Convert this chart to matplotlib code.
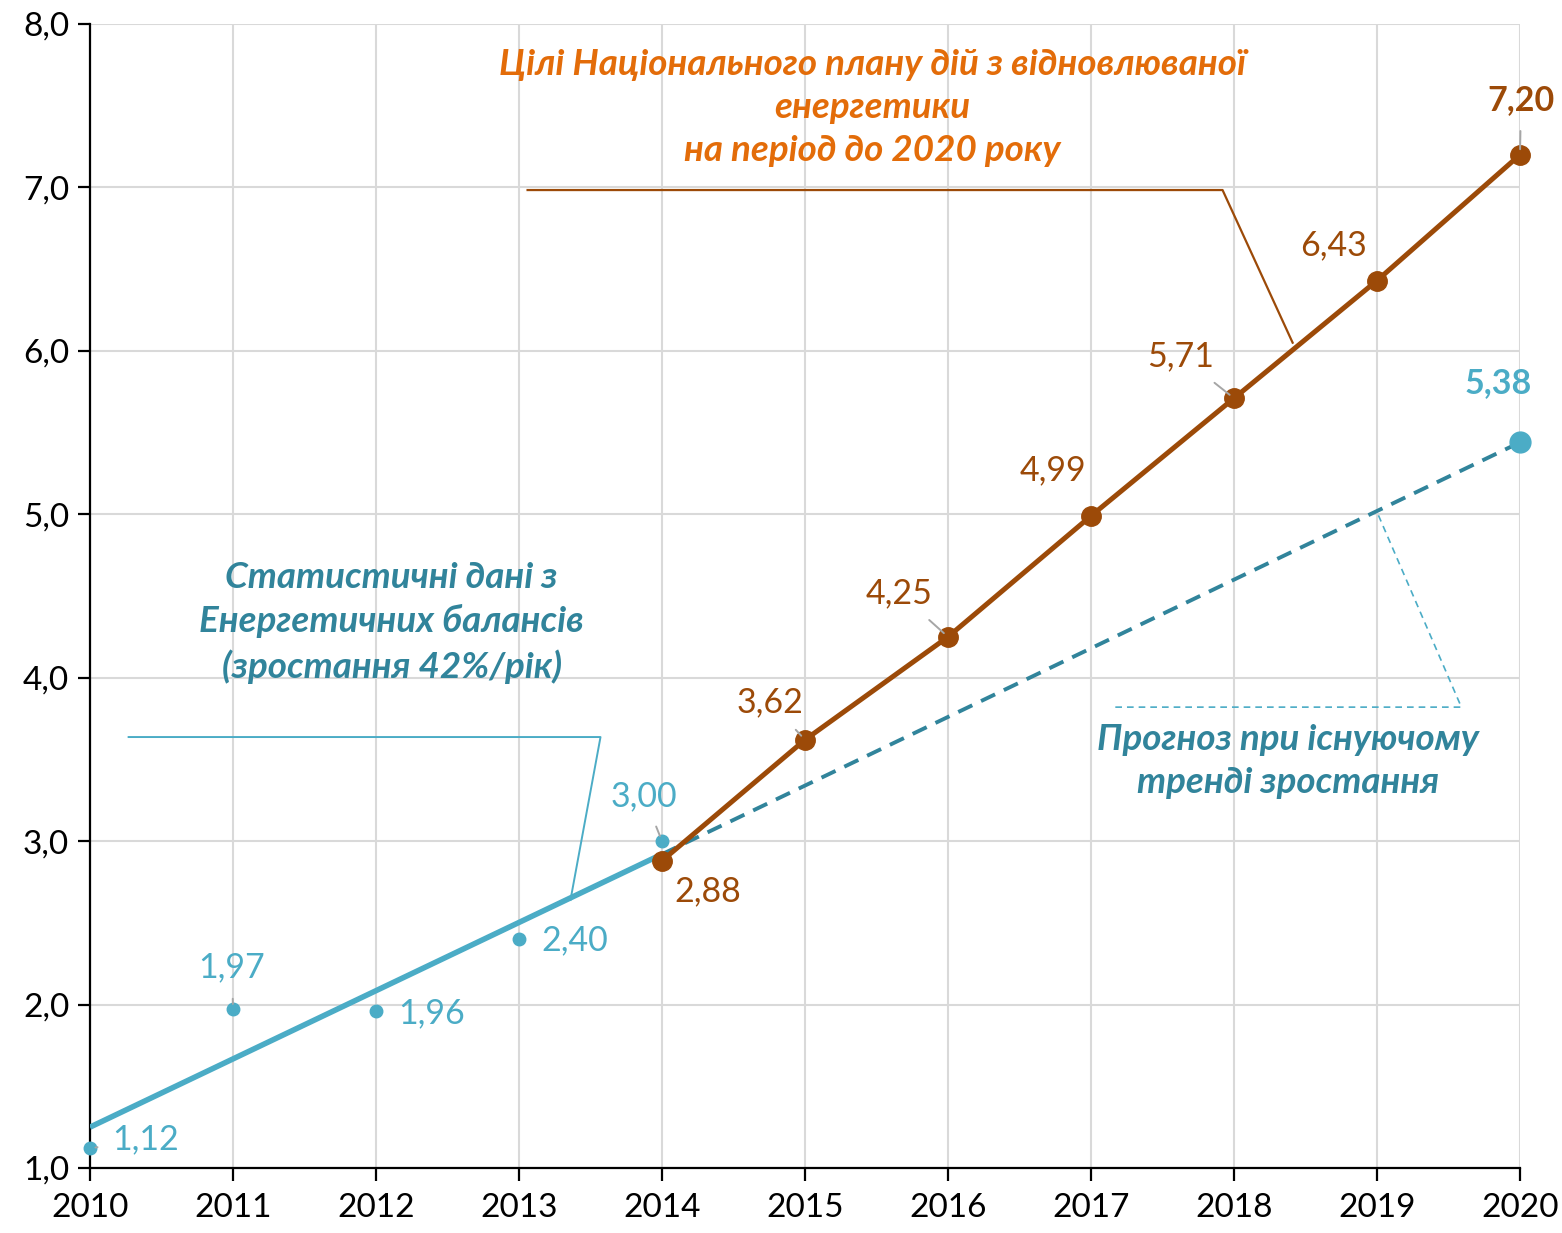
import matplotlib.pyplot as plt

plt.rcParams['font.family'] = ['Lato', 'DejaVu Sans']

# statistical data (blue points)
stat_years = [2010, 2011, 2012, 2013, 2014]
stat_vals = [1.12, 1.97, 1.96, 2.40, 3.00]
stat_labels = ["1,12", "1,97", "1,96", "2,40", "3,00"]

# linear trend of statistics and its extrapolation
trend_years = [2010, 2014]
trend_vals = [1.25, 2.92]
fcst_years = [2014, 2020]
fcst_vals = [2.92, 5.44]
fcst_label = "5,38"

# national action plan targets
plan_years = [2014, 2015, 2016, 2017, 2018, 2019, 2020]
plan_vals = [2.88, 3.62, 4.25, 4.99, 5.71, 6.43, 7.20]
plan_labels = ["2,88", "3,62", "4,25", "4,99", "5,71", "6,43", "7,20"]

years = list(range(2010, 2021))
yticks = [1, 2, 3, 4, 5, 6, 7, 8]

brown = "#9C4A08"
blue = "#4BACC6"
teal = "#31849B"
orange = "#E36C09"

fig = plt.figure(figsize=(15.62, 12.33), dpi=100)
ax = fig.add_axes([90 / 1562, 65 / 1233, 1430 / 1562, 1144 / 1233])

ax.set_xlim(2010, 2020)
ax.set_ylim(1, 8)
ax.set_xticks(years)
ax.set_yticks(yticks)
ax.set_yticklabels([f"{v},0" for v in yticks])
ax.grid(True, color="#D9D9D9", lw=1.5)
ax.set_axisbelow(True)
for s in ["top", "right"]:
    ax.spines[s].set_visible(False)
for s in ["left", "bottom"]:
    ax.spines[s].set_linewidth(1.6)
ax.tick_params(labelsize=24, length=9, width=1.6, pad=6)
ax.tick_params(axis="x", pad=9)

# lines
ax.plot(trend_years, trend_vals, color=blue, lw=4, solid_capstyle="butt", zorder=3)
ax.plot(fcst_years, fcst_vals, color=teal, lw=2.8, dashes=(4, 2.5), zorder=3)
ax.plot(fcst_years[-1], fcst_vals[-1], 'o', color=blue, ms=15, zorder=5, clip_on=False)
ax.plot(plan_years, plan_vals, color=brown, lw=3.6, zorder=4)
ax.plot(plan_years, plan_vals, 'o', color=brown, ms=14, zorder=5, clip_on=False)
ax.plot(stat_years, stat_vals, 'o', color=blue, ms=9, zorder=5, clip_on=False)

# data labels: offsets in pixels, with leader lines for some
stat_off = [(56, 9), (-1, 42), (56, -2), (56, -1), (-18, 45)]
stat_lead = [True, True, False, False, True]
plan_off = [(46, -31), (-35, 38), (-49, 44), (-38, 46), (-53, 42), (-44, 35), (1, 55)]
plan_lead = [False, True, True, False, True, False, True]
lead = dict(arrowstyle="-", color="#A6A6A6", lw=1.4, shrinkA=9, shrinkB=4)

for x, y, t, off, ld in zip(stat_years, stat_vals, stat_labels, stat_off, stat_lead):
    ax.annotate(t, (x, y), xytext=off, textcoords="offset pixels", ha="center", va="center",
                fontsize=24.5, color=blue, arrowprops=lead if ld else None, zorder=6)
for i, (x, y, t, off, ld) in enumerate(zip(plan_years, plan_vals, plan_labels, plan_off, plan_lead)):
    bold = i == len(plan_years) - 1
    ax.annotate(t, (x, y), xytext=off, textcoords="offset pixels", ha="center", va="center",
                fontsize=24.5, color=brown, fontweight="bold" if bold else "normal",
                arrowprops=lead if ld else None, zorder=6, annotation_clip=False)
ax.annotate(fcst_label, (fcst_years[-1], fcst_vals[-1]), xytext=(-22, 59), textcoords="offset pixels",
            ha="center", va="center", fontsize=24.5, color=blue, fontweight="bold", annotation_clip=False)

# callout texts with connector lines
ax.text(2015.47, 7.49, "Цілі Національного плану дій з відновлюваної\nенергетики\nна період до 2020 року",
        ha="center", va="center", fontsize=26.5, color=orange, fontweight="bold", style="italic",
        linespacing=1.38)
ax.plot([2013.06, 2017.92, 2018.41], [6.984, 6.984, 6.05], color=brown, lw=1.6, zorder=3)

ax.text(2012.11, 4.34, "Статистичні дані з\nЕнергетичних балансів\n(зростання 42%/рік)",
        ha="center", va="center", fontsize=26.5, color=teal, fontweight="bold", style="italic",
        linespacing=1.38)
ax.plot([2010.27, 2013.57, 2013.36], [3.637, 3.637, 2.64], color=blue, lw=1.4, zorder=3)

ax.text(2018.38, 3.49, "Прогноз при існуючому\nтренді зростання",
        ha="center", va="center", fontsize=26.5, color=teal, fontweight="bold", style="italic",
        linespacing=1.38)
ax.plot([2017.17, 2019.59, 2019.0], [3.82, 3.82, 5.014], color=blue, lw=1.2,
        dashes=(4, 3), zorder=3)

fig.savefig("out.png", dpi=100)
